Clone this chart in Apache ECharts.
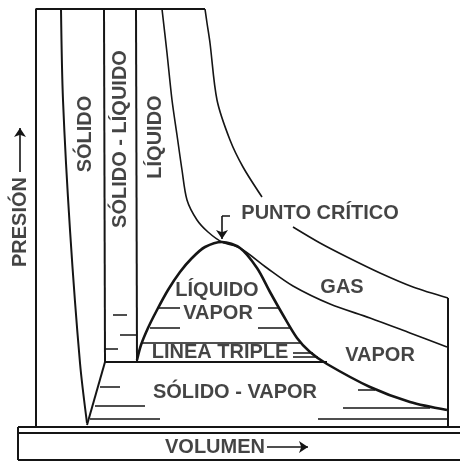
<!DOCTYPE html>
<html>
<head>
<meta charset="utf-8">
<script src="https://cdn.jsdelivr.net/npm/echarts@6/dist/echarts.min.js"></script>
<style>
html, body { margin: 0; padding: 0; background: #fff; }
#chart { width: 460px; height: 463px; }
</style>
</head>
<body>
<div id="chart"></div>
<script>
// Diagrama P-V de una sustancia pura. [V, P] en unidades del dibujo
var marco = [[205, 454], [36, 454], [36, 36]];
var fronteraSolido = [[61, 454], [63, 363], [70, 233], [80, 100], [87, 40]];
var solidoVapor = [[105, 101], [87, 38]];
var solidoLiquidoIzq = [[104, 454], [105, 101]];
var solidoLiquidoDer = [[136, 454], [137, 101]];
var lineaTriple = [[105, 101], [327, 101]];
var isotermaCritica = [[162, 454], [167, 410], [172, 363], [177, 328], [182, 293], [187, 263],
	[197, 243], [208, 231], [222, 221], [240, 215], [267, 195], [293, 177], [330, 159],
	[370, 145], [410, 130], [447, 116]];
var isotermaAlta1 = [[205, 454], [207, 440], [210, 420], [217, 363], [230, 323], [243, 296], [262, 266]];
var isotermaAlta2 = [[293, 236], [320, 220], [347, 206], [380, 190], [413, 176], [448, 165]];
var bordeDerecho = [[448, 165], [448, 36]];
var campana = [[137, 103], [141, 118], [148, 135], [157, 153], [168, 173], [180, 191], [192, 205],
	[205, 216], [222, 221], [240, 215], [257, 195], [270, 171], [283, 148], [297, 125],
	[310, 111], [327, 99], [370, 76], [410, 61], [447, 53]];

// rayas horizontales: [P, V inicio, V fin]
var rayas = [
	[120, 141, 302],
	[155, 157, 180], [155, 258, 280],
	[135, 150, 180], [135, 258, 290],
	[148, 113, 127], [128, 120, 137], [114, 105, 118],
	[110, 293, 313], [106, 293, 318],
	[76, 100, 120], [57, 95, 145], [44, 90, 160],
	[73, 358, 375], [55, 343, 430], [44, 318, 447],
	[247, 222, 230]
];
// base del dibujo
var base = [[[18, 36], [460, 36]], [[18, 30], [460, 30]], [[18, 3], [460, 3]], [[18, 36], [18, 3]]];

var etiquetasH = [
	['PUNTO CRÍTICO', 320, 250],
	['GAS', 342, 176],
	['VAPOR', 380, 108],
	['LÍQUIDO', 217, 173],
	['VAPOR', 218, 150],
	['LINEA TRIPLE', 220, 111],
	['SÓLIDO - VAPOR', 235, 71],
	['VOLUMEN', 215, 16]
];
var etiquetasV = [
	['SÓLIDO', 85, 329],
	['SÓLIDO - LÍQUIDO', 120, 324],
	['LÍQUIDO', 155, 326],
	['PRESIÓN', 20, 241]
];
var flechas = [
	[[267, 16], [308, 16]],
	[[20, 291], [20, 335]],
	[[222, 247], [222, 224]]
];

var tinta = '#151515';
var fuente = { fontFamily: 'Liberation Sans', fontSize: 20, fontWeight: 'bold', color: tinta };

function curva(datos, ancho, suave) {
	return {
		type: 'line', data: datos, smooth: suave ? 0.3 : false, showSymbol: false,
		lineStyle: { color: tinta, width: ancho }, silent: true, z: 3
	};
}

function etiquetas(lista, giro) {
	var label = { show: true, position: 'inside', formatter: '{b}', rotate: giro };
	for (var k in fuente) label[k] = fuente[k];
	return {
		type: 'scatter', symbolSize: 0, silent: true, z: 5,
		data: lista.map(function (e) { return { name: e[0], value: [e[1], e[2]] }; }),
		label: label
	};
}

var option = {
	animation: false,
	grid: { left: 0, right: 0, top: 0, bottom: 0 },
	xAxis: { type: 'value', min: 0, max: 460, show: false },
	yAxis: { type: 'value', min: 0, max: 463, show: false },
	series: [
		curva(marco, 2, false),
		curva(fronteraSolido, 2, true),
		curva(solidoVapor, 2, false),
		curva(solidoLiquidoIzq, 2, false),
		curva(solidoLiquidoDer, 2, false),
		curva(lineaTriple, 2, false),
		curva(isotermaCritica, 1.6, true),
		curva(isotermaAlta1, 1.6, true),
		curva(isotermaAlta2, 1.6, true),
		curva(bordeDerecho, 2, false),
		curva(campana, 2.6, true),
		{
			type: 'lines', coordinateSystem: 'cartesian2d', silent: true, z: 3,
			lineStyle: { color: tinta, width: 1.5, opacity: 1 },
			data: rayas.map(function (r) { return { coords: [[r[1], r[0]], [r[2], r[0]]] }; })
		},
		{
			type: 'lines', coordinateSystem: 'cartesian2d', silent: true, z: 3,
			lineStyle: { color: tinta, width: 2, opacity: 1 },
			data: base.map(function (b) { return { coords: b }; })
		},
		{
			type: 'lines', coordinateSystem: 'cartesian2d', silent: true, z: 3,
			symbol: ['none', 'arrow'], symbolSize: 9,
			itemStyle: { color: tinta },
			lineStyle: { color: tinta, width: 1.6, opacity: 1 },
			data: flechas.map(function (f) { return { coords: f }; })
		},
		etiquetas(etiquetasH, 0),
		etiquetas(etiquetasV, 90)
	]
};

var myChart = echarts.init(document.getElementById('chart'));
myChart.setOption(option);
</script>
</body>
</html>
